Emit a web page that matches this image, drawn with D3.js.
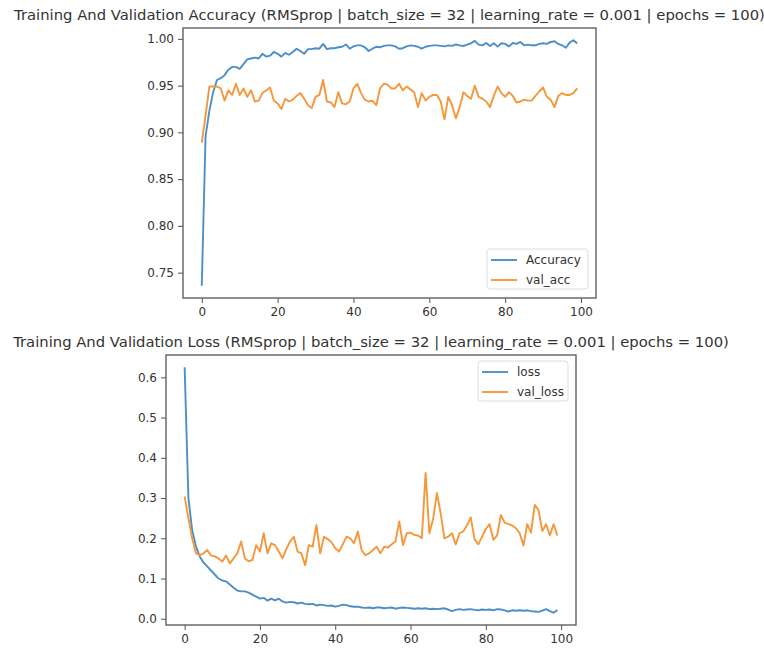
<!DOCTYPE html>
<html>
<head>
<meta charset="utf-8">
<script src="https://cdn.jsdelivr.net/npm/d3@7"></script>
<style>
  body { margin: 0; background: #fff; }
  text { font-family: "DejaVu Sans", sans-serif; fill: #333; }
</style>
</head>
<body>
<svg id="chart" width="764" height="648"></svg>
<script>
// epochs 0..99
var epochs = d3.range(100);

var acc = [0.736,0.896,0.923,0.943,0.956,0.958,0.961,0.967,0.970,0.970,
  0.968,0.973,0.978,0.979,0.980,0.979,0.984,0.981,0.982,0.986,
  0.984,0.981,0.985,0.983,0.986,0.9895,0.987,0.984,0.989,0.989,
  0.990,0.9895,0.9946,0.989,0.990,0.990,0.991,0.9916,0.994,0.9895,
  0.992,0.993,0.993,0.991,0.987,0.9895,0.9916,0.991,0.9925,0.993,
  0.993,0.992,0.9895,0.990,0.992,0.993,0.9925,0.9916,0.9895,0.9916,
  0.9925,0.993,0.993,0.9925,0.992,0.993,0.9925,0.994,0.993,0.9924,
  0.9938,0.9953,0.9978,0.9938,0.9931,0.9956,0.9924,0.9953,0.9917,0.9953,
  0.9946,0.992,0.9956,0.9946,0.9967,0.9931,0.9938,0.9931,0.9931,0.9946,
  0.9953,0.9946,0.9967,0.9974,0.9946,0.9931,0.9905,0.996,0.9985,0.995];

var valAcc = [0.889,0.918,0.949,0.949,0.949,0.947,0.934,0.945,0.940,0.952,
  0.940,0.947,0.938,0.945,0.933,0.934,0.942,0.945,0.948,0.934,
  0.931,0.925,0.936,0.933,0.935,0.939,0.942,0.936,0.929,0.926,
  0.938,0.940,0.956,0.933,0.932,0.927,0.943,0.931,0.930,0.933,
  0.947,0.952,0.942,0.935,0.933,0.934,0.929,0.947,0.952,0.951,
  0.947,0.947,0.952,0.945,0.949,0.946,0.943,0.927,0.942,0.934,
  0.938,0.940,0.940,0.933,0.914,0.938,0.929,0.915,0.927,0.943,
  0.939,0.936,0.950,0.938,0.936,0.933,0.927,0.939,0.949,0.942,
  0.938,0.943,0.939,0.932,0.933,0.935,0.934,0.934,0.939,0.944,
  0.948,0.938,0.935,0.927,0.939,0.942,0.940,0.940,0.942,0.947];

var loss = [0.625,0.30,0.22,0.18,0.155,0.14,0.13,0.12,0.11,0.10,
  0.095,0.093,0.085,0.077,0.07,0.068,0.068,0.065,0.06,0.055,
  0.05,0.052,0.045,0.05,0.046,0.05,0.043,0.04,0.042,0.041,
  0.038,0.04,0.037,0.036,0.037,0.033,0.035,0.034,0.032,0.033,
  0.03,0.032,0.035,0.034,0.031,0.03,0.03,0.028,0.027,0.028,
  0.026,0.028,0.028,0.026,0.027,0.028,0.025,0.027,0.028,0.027,
  0.026,0.025,0.026,0.025,0.026,0.024,0.025,0.024,0.025,0.026,
  0.023,0.019,0.022,0.024,0.022,0.023,0.024,0.022,0.021,0.023,
  0.022,0.023,0.021,0.024,0.023,0.021,0.018,0.021,0.02,0.021,
  0.02,0.021,0.019,0.018,0.017,0.02,0.024,0.019,0.015,0.022];

var valLoss = [0.304,0.25,0.20,0.1625,0.158,0.1625,0.171,0.157,0.155,0.15,
  0.142,0.157,0.1375,0.15,0.1625,0.192,0.15,0.143,0.146,0.183,
  0.167,0.2125,0.1625,0.1875,0.183,0.167,0.15,0.173,0.192,0.204,
  0.167,0.1625,0.133,0.183,0.179,0.233,0.1625,0.204,0.198,0.19,
  0.175,0.167,0.185,0.204,0.2,0.1875,0.217,0.171,0.158,0.1625,
  0.171,0.179,0.1625,0.179,0.177,0.185,0.192,0.242,0.183,0.2125,
  0.214,0.208,0.207,0.2,0.3625,0.2125,0.248,0.3125,0.2625,0.2,
  0.204,0.2125,0.185,0.2125,0.217,0.232,0.252,0.198,0.185,0.204,
  0.223,0.235,0.196,0.207,0.258,0.239,0.235,0.232,0.225,0.2125,
  0.182,0.235,0.214,0.283,0.27,0.218,0.235,0.207,0.235,0.207];

var xTicks = [0, 20, 40, 60, 80, 100];
var accTicks = [0.75, 0.80, 0.85, 0.90, 0.95, 1.00];
var lossTicks = [0.0, 0.1, 0.2, 0.3, 0.4, 0.5, 0.6];

var blue = "#4b8fc8", orange = "#f5973a";

var svg = d3.select("#chart");

function padded(ext) {
  var pad = (ext[1] - ext[0]) * 0.05;
  return [ext[0] - pad, ext[1] + pad];
}

function panel(cfg) {
  var x = d3.scaleLinear()
    .domain(padded([0, epochs.length - 1]))
    .range([cfg.left, cfg.right]);
  var y = d3.scaleLinear()
    .domain(padded(d3.extent(cfg.series[0].values.concat(cfg.series[1].values))))
    .range([cfg.bottom, cfg.top]);

  // title, shrunk/grown to the width seen in the picture
  var t = svg.append("text")
    .attr("x", (cfg.left + cfg.right) / 2)
    .attr("y", cfg.top - 8)
    .attr("text-anchor", "middle")
    .style("font-size", "13px")
    .text(cfg.title);
  var w = t.node().getComputedTextLength();
  t.style("font-size", (13 * cfg.titleWidth / w) + "px");

  var line = d3.line()
    .x(function(d, i) { return x(epochs[i]); })
    .y(function(d) { return y(d); });

  cfg.series.forEach(function(s) {
    svg.append("path")
      .datum(s.values)
      .attr("fill", "none")
      .attr("stroke", s.color)
      .attr("stroke-width", 1.9)
      .attr("stroke-linejoin", "round")
      .attr("d", line);
  });

  var xAxis = svg.append("g")
    .attr("transform", "translate(0," + cfg.bottom + ")")
    .call(d3.axisBottom(x).tickValues(xTicks).tickSize(5).tickPadding(4));
  var yAxis = svg.append("g")
    .attr("transform", "translate(" + cfg.left + ",0)")
    .call(d3.axisLeft(y).tickValues(cfg.yTicks).tickFormat(d3.format(cfg.yFmt)).tickSize(5).tickPadding(4));
  [xAxis, yAxis].forEach(function(g) {
    g.select(".domain").remove();
    g.selectAll("line").attr("stroke", "#555");
    g.selectAll("text").style("font-size", "12px").style("font-family", "DejaVu Sans").attr("fill", "#444");
  });

  svg.append("rect")
    .attr("x", cfg.left).attr("y", cfg.top)
    .attr("width", cfg.right - cfg.left).attr("height", cfg.bottom - cfg.top)
    .attr("fill", "none").attr("stroke", "#555").attr("stroke-width", 1.3);

  // legend
  var lg = svg.append("g").attr("transform", "translate(" + cfg.legend[0] + "," + cfg.legend[1] + ")");
  lg.append("rect")
    .attr("width", cfg.legend[2]).attr("height", 40).attr("rx", 3)
    .attr("fill", "#fff").attr("fill-opacity", 0.85).attr("stroke", "#ddd");
  cfg.series.forEach(function(s, i) {
    lg.append("line")
      .attr("x1", 4).attr("x2", 30)
      .attr("y1", 11 + i * 20).attr("y2", 11 + i * 20)
      .attr("stroke", s.color).attr("stroke-width", 1.9);
    lg.append("text")
      .attr("x", 39).attr("y", 15 + i * 20)
      .style("font-size", "12px")
      .text(s.name);
  });
}

panel({
  title: "Training And Validation Accuracy (RMSprop | batch_size = 32 | learning_rate = 0.001 | epochs = 100)",
  titleWidth: 751,
  left: 183, right: 596, top: 28, bottom: 298,
  yTicks: accTicks, yFmt: ".2f",
  legend: [487, 249, 101],
  series: [{name: "Accuracy", values: acc, color: blue},
           {name: "val_acc", values: valAcc, color: orange}]
});

panel({
  title: "Training And Validation Loss (RMSprop | batch_size = 32 | learning_rate = 0.001 | epochs = 100)",
  titleWidth: 716,
  left: 166, right: 576, top: 355, bottom: 625,
  yTicks: lossTicks, yFmt: ".1f",
  legend: [478, 361, 90],
  series: [{name: "loss", values: loss, color: blue},
           {name: "val_loss", values: valLoss, color: orange}]
});
</script>
</body>
</html>
